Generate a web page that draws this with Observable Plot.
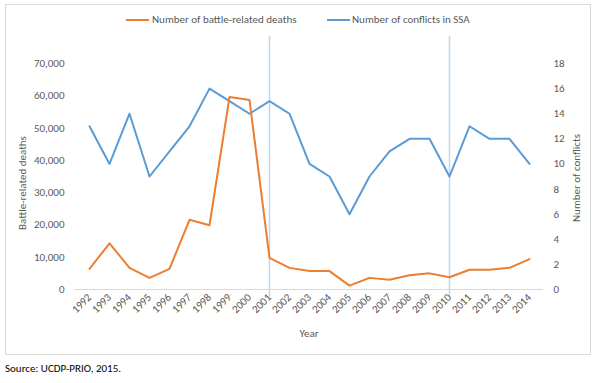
<!DOCTYPE html>
<html>
<head>
<meta charset="utf-8">
<script src="https://cdn.jsdelivr.net/npm/d3@7"></script>
<script src="https://cdn.jsdelivr.net/npm/@observablehq/plot@0.6"></script>
<style>
  html, body { margin: 0; padding: 0; background: #fff; }
  #wrap { position: relative; width: 600px; height: 383px; font-family: Carlito, Calibri, Lato, "Liberation Sans", sans-serif; color: #595959; font-size: 11px; }
  #frame { position: absolute; left: 5px; top: 4px; width: 586px; height: 351px; border: 1px solid #d9d9d9; box-sizing: border-box; }
  #chart { position: absolute; left: 0; top: 0; }
  .leg { position: absolute; top: 13px; height: 14px; line-height: 14px; white-space: nowrap; }
  .sw { position: absolute; top: 19px; width: 23px; height: 2px; }
  .ttl { position: absolute; width: 0; height: 0; }
  .ttl span { position: absolute; left: 0; top: 0; white-space: nowrap; line-height: 14px; transform: translate(-50%, -50%) rotate(-90deg); }
  #src { position: absolute; left: 5px; top: 362px; font-size: 11px; color: #000; }
</style>
</head>
<body>
<div id="wrap">
  <div id="frame"></div>
  <div id="chart"></div>
  <div class="sw" style="left:126px;background:#ed7d31"></div>
  <div class="leg" style="left:152px">Number of battle-related deaths</div>
  <div class="sw" style="left:327px;background:#5b9bd5"></div>
  <div class="leg" style="left:352px">Number of conflicts in SSA</div>
  <div class="ttl" style="left:23px;top:183px"><span>Battle-related deaths</span></div>
  <div class="ttl" style="left:577px;top:178px"><span>Number of conflicts</span></div>
  <div id="src">Source: UCDP-PRIO, 2015.</div>
</div>
<script>
const years = ["1992","1993","1994","1995","1996","1997","1998","1999","2000","2001","2002","2003","2004","2005","2006","2007","2008","2009","2010","2011","2012","2013","2014"];
const deaths = [6400,14300,6700,3600,6400,21600,19900,59600,58700,9800,6700,5700,5700,1200,3600,3000,4400,5000,3800,6100,6100,6700,9400];
const conflicts = [13,10,14,9,11,13,16,15,14,15,14,10,9,6,9,11,12,12,9,13,12,12,10];
const highlightYears = ["2001","2010"];
const leftTicks = [0,10000,20000,30000,40000,50000,60000,70000];
const rightTicks = [0,2,4,6,8,10,12,14,16,18];
const leftMax = 70000, rightMax = 18;
const k = leftMax / rightMax;

const data = years.map((y, i) => ({year: y, deaths: deaths[i], conflicts: conflicts[i]}));

const chart = Plot.plot({
  width: 600,
  height: 356,
  marginTop: 63,
  marginBottom: 67,
  marginLeft: 74,
  marginRight: 57,
  style: {fontFamily: "Carlito, Calibri, Lato, 'Liberation Sans', sans-serif", fontSize: "11px", color: "#595959", background: "transparent"},
  x: {type: "point", domain: years, padding: 0.5},
  y: {domain: [0, leftMax]},
  marks: [
    Plot.ruleY([0], {stroke: "#d9d9d9", strokeWidth: 1}),
    Plot.ruleX(highlightYears, {stroke: "#bdd7ee", strokeWidth: 1.5, insetTop: -27, insetBottom: -8}),
    Plot.axisX({tickSize: 0, tickPadding: 6, tickRotate: -45, label: null}),
    Plot.axisY(leftTicks, {anchor: "left", tickSize: 0, tickPadding: 10, tickFormat: d3.format(","), label: null}),
    Plot.axisY(rightTicks.map(t => t * k), {anchor: "right", tickSize: 0, tickPadding: 10, tickFormat: d => String(Math.round(d / k)), label: null, textAnchor: "start"}),
    Plot.line(data, {x: "year", y: d => d.conflicts * k, stroke: "#5b9bd5", strokeWidth: 2}),
    Plot.line(data, {x: "year", y: "deaths", stroke: "#ed7d31", strokeWidth: 2}),
    Plot.text(["Year"], {frameAnchor: "bottom", dy: 47, fill: "#595959", fontSize: 11})
  ]
});
document.getElementById("chart").appendChild(chart);
</script>
</body>
</html>
